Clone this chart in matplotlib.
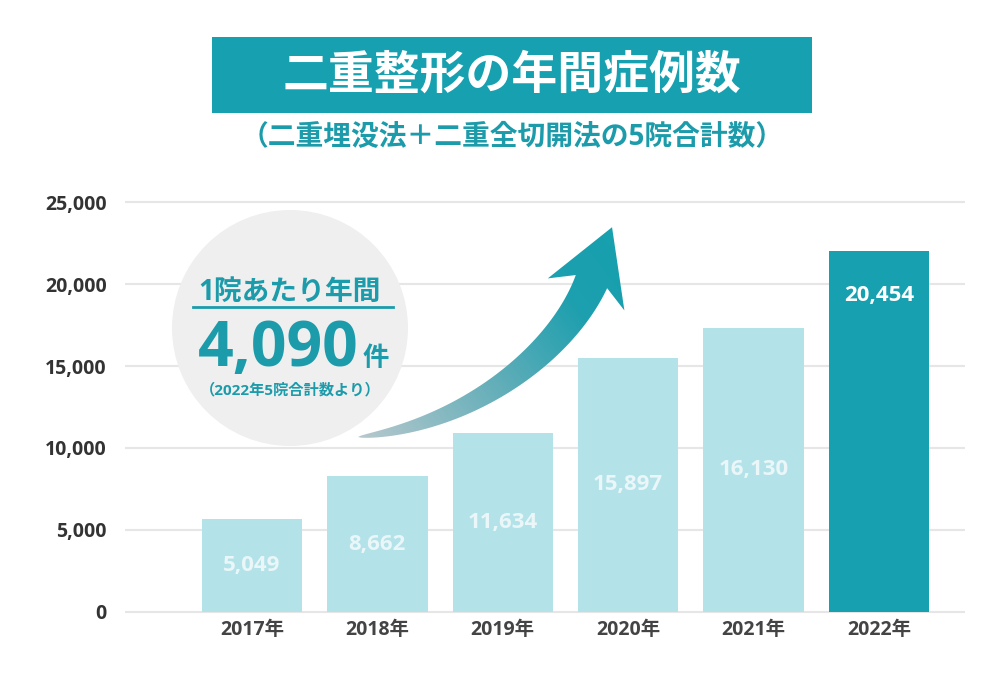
import numpy as np
import matplotlib
matplotlib.use('Agg')
import matplotlib.pyplot as plt
from matplotlib.patches import Rectangle, Circle, Polygon
from matplotlib.colors import LinearSegmentedColormap

plt.rcParams['font.family'] = ['Open Sans', 'Noto Sans CJK JP', 'DejaVu Sans']

# data
years = ['2017年', '2018年', '2019年', '2020年', '2021年', '2022年']
case_counts = [5049, 8662, 11634, 15897, 16130, 20454]
# bar heights as drawn in the picture (they do not follow the labels exactly)
drawn_heights = [5670, 8290, 10920, 15490, 17320, 22030]
y_ticks = [0, 5000, 10000, 15000, 20000, 25000]

title = '二重整形の年間症例数'
subtitle = '（二重埋没法＋二重全切開法の5院合計数）'
badge_head = '1院あたり年間'
badge_value = '4,090'
badge_unit = '件'
badge_note = '（2022年5院合計数より）'

teal = '#16a0b0'
teal_text = '#1c9bab'
light = '#b3e3e9'
grid_col = '#e6e6e6'

fig = plt.figure(figsize=(10, 7), dpi=100)

# main bar chart
ax = fig.add_axes([0.125, 1 - 616.9 / 700, 0.84, 419.8 / 700])
x = np.arange(len(years))
colors = [light] * (len(years) - 1) + [teal]
ax.bar(x, drawn_heights, width=0.8, color=colors, zorder=2)

ax.set_xlim(-1.013, 5.686)
ax.set_ylim(-300, 25300)
ax.set_yticks(y_ticks)
ax.set_yticklabels([f'{v:,}' for v in y_ticks], fontsize=14, fontweight='bold', color='#333333')
ax.set_xticks(x)
ax.set_xticklabels(years, fontsize=14, fontweight='bold', color='#444444')
ax.tick_params(axis='y', length=0, pad=13)
ax.tick_params(axis='x', length=0, pad=2)
ax.yaxis.grid(True, color=grid_col, lw=1.5)
ax.set_axisbelow(True)
for s in ax.spines.values():
    s.set_visible(False)

# value labels
for i, (h, c) in enumerate(zip(drawn_heights, case_counts)):
    if i == len(years) - 1:
        ax.annotate(f'{c:,}', (i, h), xytext=(0, -32), textcoords='offset points',
                    ha='center', va='center', fontsize=16, fontweight='bold', color='white', zorder=3)
    else:
        ax.text(i, h / 2, f'{c:,}', ha='center', va='center', fontsize=16,
                fontweight='bold', color='#eaf6f8', zorder=3)

# overlay in pixel coordinates for title, badge and arrow
ov = fig.add_axes([0, 0, 1, 1])
ov.set_xlim(0, 1000)
ov.set_ylim(700, 0)
ov.axis('off')

ov.add_patch(Rectangle((212, 37), 600, 76, fc=teal, ec='none'))
ov.text(512, 76, title, ha='center', va='center', fontsize=33, fontweight='bold', color='white')
ov.text(512, 138, subtitle, ha='center', va='center', fontsize=20, fontweight='bold', color=teal_text)

# badge circle
ov.add_patch(Circle((290, 328), 118, fc='#efefef', ec='none'))
ov.text(290, 292, badge_head, ha='center', va='center', fontsize=20, fontweight='bold', color=teal_text)
ov.plot([193, 393], [307, 307], color=teal_text, lw=2)
ov.text(198, 366, badge_value, ha='left', va='baseline', fontsize=45, fontweight='bold', color=teal_text)
ov.text(363, 366, badge_unit, ha='left', va='baseline', fontsize=19, fontweight='bold', color=teal_text)
ov.text(290, 390, badge_note, ha='center', va='center', fontsize=11, fontweight='bold', color=teal_text)

# curved arrow
P0 = np.array([358.0, 437.0])
P1 = np.array([470.0, 425.0])
P2 = np.array([562.0, 352.0])
P3 = np.array([591.5, 281.5])
t = np.linspace(0, 1, 120)[:, None]
curve = (1 - t) ** 3 * P0 + 3 * (1 - t) ** 2 * t * P1 + 3 * (1 - t) * t ** 2 * P2 + t ** 3 * P3
tang = 3 * (1 - t) ** 2 * (P1 - P0) + 6 * (1 - t) * t * (P2 - P1) + 3 * t ** 2 * (P3 - P2)
tang = tang / np.linalg.norm(tang, axis=1)[:, None]
norm = np.column_stack([-tang[:, 1], tang[:, 0]])
half_w = 17 * t ** 0.6
edge_a = curve + norm * half_w
edge_b = curve - norm * half_w
d, n = tang[-1], norm[-1]
head = [P3 + n * 16.8, P3 - 14 * d + 41.5 * n, P3 + 58 * d - 2 * n,
        P3 - 14 * d - 41.5 * n, P3 - n * 16.8]
pts = np.vstack([edge_a, head, edge_b[::-1]])
arrow = Polygon(pts, closed=True, fc='none', ec='none')
ov.add_patch(arrow)

gx, gy = np.meshgrid(np.linspace(340, 640, 300), np.linspace(220, 450, 230))
g = np.clip((gx - 358) / 242 * 0.6 + (437 - gy) / 207 * 0.4, 0, 1)
cmap = LinearSegmentedColormap.from_list('arr', [(0, '#b6c8cd'), (0.45, '#62aeb9'),
                                                 (0.8, '#1d9fae'), (1, '#17a0ae')])
im = ov.imshow(g, extent=(340, 640, 450, 220), origin='upper', cmap=cmap, vmin=0, vmax=1,
               aspect='auto', interpolation='bilinear')
im.set_clip_path(arrow)
ov.set_xlim(0, 1000)
ov.set_ylim(700, 0)

fig.savefig('out.png', dpi=100, facecolor='white')
